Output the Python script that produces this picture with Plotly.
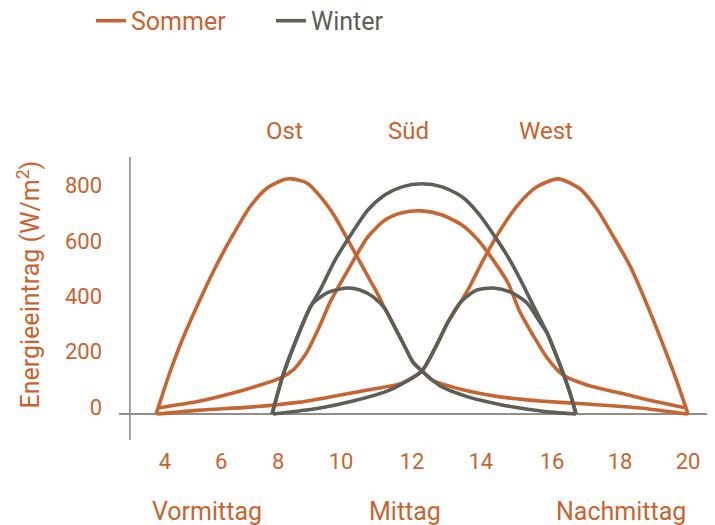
import plotly.graph_objects as go

# ---- data (hour of day, energy input W/m²) ----
sommer_ost_h = [4.11, 4.53, 4.92, 5.50, 5.95, 6.43, 6.94, 7.46, 7.94, 8.21, 8.66, 9.15, 9.51, 10.11, 10.56, 10.81,
                11.02, 11.26, 11.56, 11.86, 12.13, 12.44, 12.74, 13.52, 14.49, 15.09, 15.69, 17.11, 18.71, 20.16]
sommer_ost_w = [0, 152, 275, 431, 543, 648, 749, 818, 847, 851, 836, 775, 713, 583, 485, 431,
                380, 326, 257, 188, 156, 123, 109, 83, 62, 54, 47, 36, 22, 0]

sommer_sued_h = [4.17, 5.44, 6.43, 7.25, 7.85, 8.24, 8.45, 8.66, 9.06, 9.36, 9.90, 10.50, 11.02, 11.53, 12.13,
                 12.74, 13.34, 13.82, 14.34, 14.73, 15.09, 15.48, 15.91, 16.39, 17.11, 18.11, 19.10, 20.10]
sommer_sued_w = [22, 47, 76, 105, 130, 159, 188, 224, 322, 405, 521, 641, 702, 728, 735,
                 720, 684, 630, 547, 474, 369, 286, 203, 141, 105, 76, 47, 22]

sommer_west_h = [4.14, 5.44, 6.94, 8.45, 9.51, 10.50, 11.53, 12.13, 12.53, 12.92, 13.34, 13.58, 14.00, 14.52,
                 15.03, 15.60, 16.24, 16.90, 17.41, 17.90, 18.41, 18.80, 19.41, 19.83, 20.16]
sommer_west_w = [0, 14, 25, 43, 65, 87, 112, 156, 239, 333, 413, 463, 561, 670,
                 757, 822, 851, 815, 742, 644, 536, 431, 250, 116, 0]

winter_ost_h = [7.61, 7.94, 8.36, 8.75, 8.85, 9.27, 9.87, 10.26, 10.66, 11.02, 11.26, 11.56, 11.86, 12.13,
                12.44, 12.74, 13.52, 14.55, 15.09, 15.99, 16.78]
winter_ost_w = [0, 141, 275, 384, 402, 438, 456, 449, 424, 380, 326, 257, 188, 156,
                123, 98, 62, 33, 22, 7, 0]

winter_sued_h = [7.61, 7.94, 8.36, 8.75, 9.06, 9.51, 10.02, 10.50, 11.02, 11.53, 12.13, 12.74, 13.34, 13.82,
                 14.34, 14.73, 15.09, 15.48, 15.91, 16.18, 16.39, 16.60, 16.78]
winter_sued_w = [0, 141, 275, 384, 449, 557, 655, 738, 793, 822, 833, 822, 786, 728,
                 641, 568, 489, 395, 293, 214, 148, 76, 0]

winter_west_h = [7.64, 9.06, 10.05, 11.08, 11.53, 12.13, 12.53, 12.92, 13.28, 13.58, 13.79, 14.28, 14.79,
                 15.30, 15.69, 15.91, 16.18, 16.39, 16.60, 16.78]
winter_west_w = [0, 22, 47, 83, 109, 156, 239, 333, 402, 434, 449, 456, 442,
                 402, 333, 293, 214, 148, 76, 0]

x_tick_labels = ["4", "6", "8", "10", "12", "14", "16", "18", "20"]
y_tick_labels = ["0", "200", "400", "600", "800"]
facade_labels = ["Ost", "Süd", "West"]
daytime_labels = ["Vormittag", "Mittag", "Nachmittag"]

# ---- styling / layout ----
ORANGE = "#C8642F"
GRAY = "#5E5E56"
AXIS = "#8E8E8A"
FONT = "Roboto"

x_tick_pos = [4.38, 6.07, 7.79, 9.69, 11.83, 13.91, 16.06, 18.11, 20.16]
y_tick_pos = [26, 226, 426, 626, 826]
facade_x = [7.99, 11.73, 15.89]
daytime_x = [5.65, 11.62, 18.14]

fig = go.Figure()

line_kw = dict(shape="spline", smoothing=0.7, width=3.6)

sommer = [(sommer_ost_h, sommer_ost_w), (sommer_sued_h, sommer_sued_w), (sommer_west_h, sommer_west_w)]
winter = [(winter_ost_h, winter_ost_w), (winter_sued_h, winter_sued_w), (winter_west_h, winter_west_w)]

for i, (xs, ys) in enumerate(sommer):
    fig.add_trace(go.Scatter(
        x=xs, y=ys, mode="lines",
        line=dict(color=ORANGE, **line_kw),
        name=f"<span style='color:{ORANGE}'>Sommer</span>",
        legendgroup="sommer", showlegend=(i == 0), hoverinfo="skip"))

for i, (xs, ys) in enumerate(winter):
    fig.add_trace(go.Scatter(
        x=xs, y=ys, mode="lines",
        line=dict(color=GRAY, **line_kw),
        name=f"<span style='color:{GRAY}'>Winter</span>",
        legendgroup="winter", showlegend=(i == 0), hoverinfo="skip"))

annotations = []
for lbl, xv in zip(facade_labels, facade_x):
    annotations.append(dict(text=lbl, x=xv, xref="x", y=1.0936, yref="paper",
                            showarrow=False, font=dict(family=FONT, size=24, color=ORANGE),
                            xanchor="center", yanchor="middle"))
for lbl, xv in zip(daytime_labels, daytime_x):
    annotations.append(dict(text=lbl, x=xv, xref="x", y=-0.254, yref="paper",
                            showarrow=False, font=dict(family=FONT, size=25, color=ORANGE),
                            xanchor="center", yanchor="middle"))
annotations.append(dict(text="Energieeintrag (W/m<sup>2</sup>)", x=-0.150, xref="paper",
                        y=0.548, yref="paper", textangle=-90, showarrow=False,
                        font=dict(family=FONT, size=25, color=ORANGE),
                        xanchor="center", yanchor="middle"))

fig.update_layout(
    width=707, height=517,
    margin=dict(l=111, r=0, t=149, b=85, autoexpand=False),
    paper_bgcolor="white", plot_bgcolor="white",
    font=dict(family=FONT, size=22, color=ORANGE),
    showlegend=True,
    legend=dict(orientation="h", xref="container", yref="paper",
                x=0.1174, y=1.562, xanchor="left", yanchor="top",
                font=dict(family=FONT, size=25), entrywidth=135,
                bgcolor="rgba(0,0,0,0)"),
    xaxis=dict(range=[2.99, 20.975], showgrid=False, zeroline=False, showline=False,
               ticks="", tickmode="array", tickvals=x_tick_pos, ticktext=x_tick_labels,
               tickfont=dict(family=FONT, size=22, color=ORANGE), ticklabelstandoff=6,
               fixedrange=True),
    yaxis=dict(range=[-94, 930], showgrid=False, zeroline=True, zerolinecolor=AXIS,
               zerolinewidth=1.6, showline=False, ticks="", tickmode="array",
               tickvals=y_tick_pos, ticktext=y_tick_labels,
               tickfont=dict(family=FONT, size=22, color=ORANGE), ticklabelstandoff=16,
               fixedrange=True),
    shapes=[dict(type="line", xref="x", yref="paper", x0=3.32, x1=3.32, y0=0, y1=1,
                 line=dict(color=AXIS, width=1.6), layer="below")],
    annotations=annotations,
)

fig.write_html("out.html")
